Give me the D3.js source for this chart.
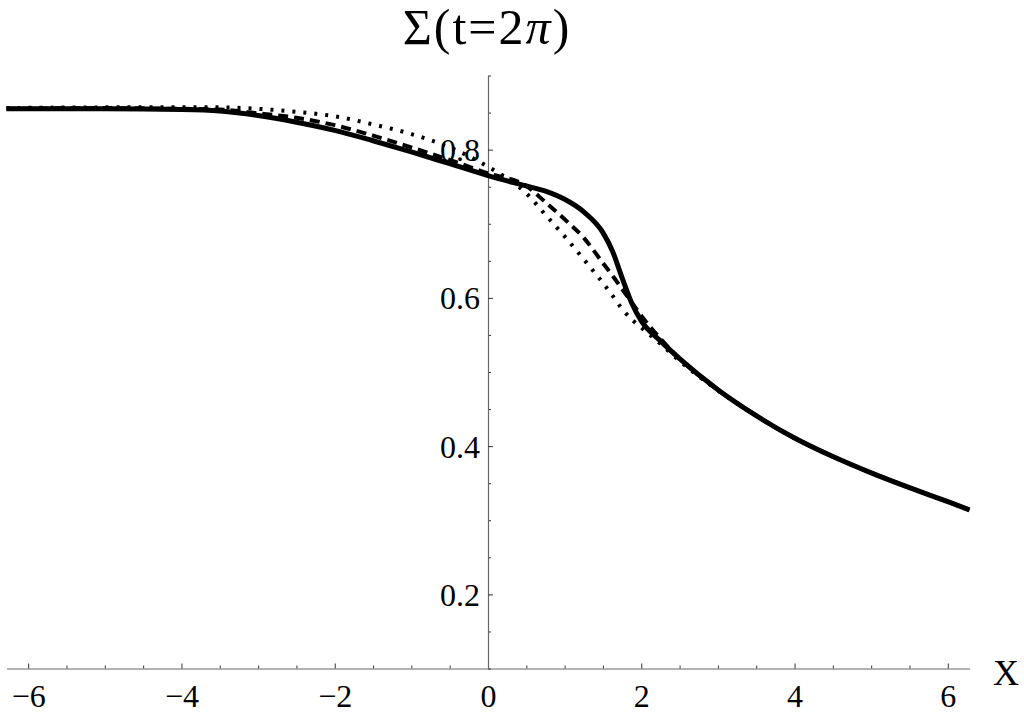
<!DOCTYPE html>
<html>
<head>
<meta charset="utf-8">
<script src="https://cdn.jsdelivr.net/npm/d3@7"></script>
</head>
<body style="margin:0">
<svg id="fig" width="1024" height="718"></svg>
<script>
// ---- data ----
const xValues = [-6.283, -5, -4, -3.5, -3, -2.5, -2, -1.5, -1, -0.5, 0, 0.5, 0.75, 1, 1.25, 1.5, 1.625, 1.75, 1.875, 2, 2.25, 2.5, 3, 3.5, 4, 4.5, 5, 5.5, 6, 6.283];
const solidValues  = [0.855, 0.855, 0.854, 0.852, 0.846, 0.837, 0.826, 0.812, 0.797, 0.781, 0.765, 0.751, 0.744, 0.733, 0.716, 0.688, 0.663, 0.627, 0.593, 0.569, 0.542, 0.518, 0.476, 0.441, 0.411, 0.386, 0.364, 0.344, 0.325, 0.314];
const dashedValues = [0.855, 0.856, 0.855, 0.854, 0.849, 0.843, 0.833, 0.819, 0.803, 0.786, 0.768, 0.751, 0.729, 0.706, 0.681, 0.647, 0.630, 0.612, 0.594, 0.576, 0.545, 0.518, 0.476, 0.441, 0.411, 0.386, 0.364, 0.344, 0.325, 0.314];
const dottedValues = [0.856, 0.857, 0.857, 0.857, 0.855, 0.851, 0.845, 0.834, 0.821, 0.803, 0.777, 0.741, 0.712, 0.683, 0.652, 0.620, 0.603, 0.585, 0.571, 0.560, 0.538, 0.515, 0.475, 0.441, 0.411, 0.386, 0.364, 0.344, 0.325, 0.314];
const xMajorTicks = [-6, -4, -2, 0, 2, 4, 6];
const yMajorTicks = [0.2, 0.4, 0.6, 0.8];
const titleText = ["Σ(t=2", "π", ")"];
const xLabelText = "X";

// ---- layout ----
const serif = "'Liberation Serif'";
const svg = d3.select("#fig");
const x = d3.scaleLinear().domain([-2 * Math.PI, 2 * Math.PI]).range([6.5, 969.5]);
const y = d3.scaleLinear().domain([0.1, 0.9]).range([668.5, 75.5]);

const xMinor = d3.range(-6, 6.01, 0.5).filter(v => xMajorTicks.indexOf(v) < 0);
const yMinor = d3.range(0.1, 0.901, 0.05).map(v => +v.toFixed(2)).filter(v => yMajorTicks.every(t => Math.abs(t - v) > 1e-6));

const axisColor = "#666";
function serifText(sel, size) {
  sel.style("font-family", serif, "important").style("font-size", size + "px", "important");
}

const gxMinor = svg.append("g").attr("transform", `translate(0,${y(0.1)})`)
  .call(d3.axisBottom(x).tickValues(xMinor).tickSize(-3).tickFormat(""));
const gx = svg.append("g").attr("transform", `translate(0,${y(0.1)})`)
  .call(d3.axisBottom(x).tickValues(xMajorTicks).tickSizeInner(-5).tickSizeOuter(0).tickPadding(16).tickFormat(d3.format("d")));
gx.selectAll("text").attr("dy", "0.71em");

const gyMinor = svg.append("g").attr("transform", `translate(${x(0)},0)`)
  .call(d3.axisLeft(y).tickValues(yMinor).tickSize(-3).tickFormat(""));
const gy = svg.append("g").attr("transform", `translate(${x(0)},0)`)
  .call(d3.axisLeft(y).tickValues(yMajorTicks).tickSizeInner(-5).tickSizeOuter(0).tickPadding(8).tickFormat(d3.format(".1f")));
gy.selectAll("text").attr("dy", "0.34em");

[gx, gxMinor, gy, gyMinor].forEach(g => {
  g.attr("font-family", null).attr("font-size", null);
  g.select(".domain").attr("stroke", axisColor).attr("stroke-width", 1.2);
  g.selectAll(".tick line").attr("stroke", "#333").attr("stroke-width", 1);
  g.selectAll("text").attr("fill", "#000").call(serifText, 32);
});
gxMinor.select(".domain").remove();
gyMinor.select(".domain").remove();

// ---- curves ----
const line = d3.line()
  .x((d, i) => x(xValues[i]))
  .y(d => y(d))
  .curve(d3.curveMonotoneX);

svg.append("path").datum(dottedValues)
  .attr("d", line).attr("fill", "none").attr("stroke", "#000")
  .attr("stroke-width", 4).attr("stroke-dasharray", "3,8");
svg.append("path").datum(dashedValues)
  .attr("d", line).attr("fill", "none").attr("stroke", "#000")
  .attr("stroke-width", 4).attr("stroke-dasharray", "10,6");
svg.append("path").datum(solidValues)
  .attr("d", line).attr("fill", "none").attr("stroke", "#000")
  .attr("stroke-width", 5);

// ---- title ----
const title = svg.append("text")
  .attr("x", 487).attr("y", 44)
  .attr("text-anchor", "middle")
  .call(serifText, 50)
  .style("letter-spacing", "2px");
title.append("tspan").text(titleText[0]);
title.append("tspan").style("font-style", "italic").text(titleText[1]);
title.append("tspan").text(titleText[2]);

// ---- x label ----
svg.append("text")
  .attr("x", 1006).attr("y", 685)
  .attr("text-anchor", "middle")
  .call(serifText, 36)
  .text(xLabelText);
</script>
</body>
</html>
